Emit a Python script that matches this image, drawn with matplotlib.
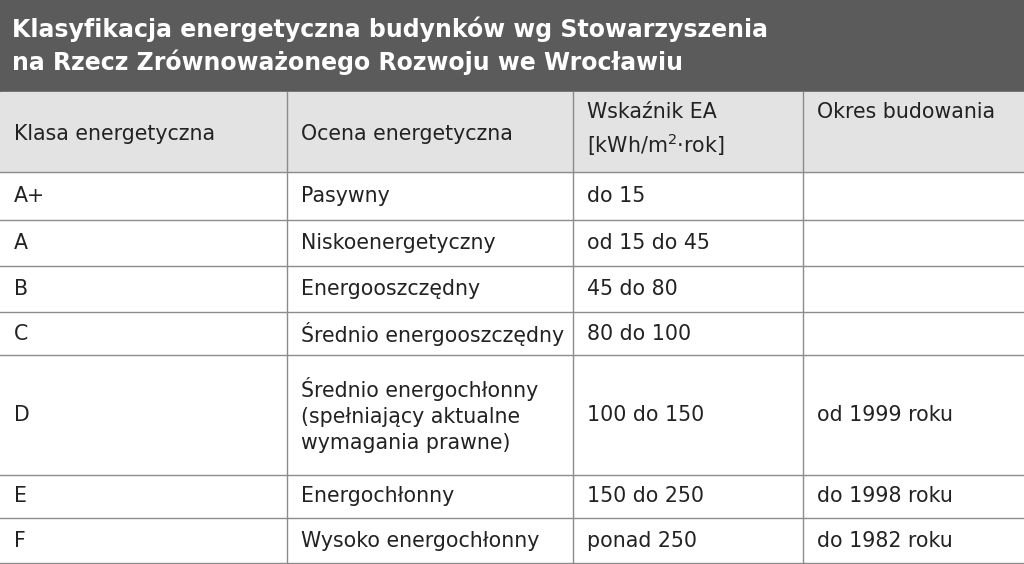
import matplotlib
matplotlib.use("Agg")
import matplotlib.pyplot as plt
from matplotlib.patches import Rectangle
from matplotlib import font_manager as fm

names = {f.name for f in fm.fontManager.ttflist}
FONT = "Liberation Sans Narrow" if "Liberation Sans Narrow" in names else "DejaVu Sans"

title = "Klasyfikacja energetyczna budynków wg Stowarzyszenia\nna Rzecz Zrównoważonego Rozwoju we Wrocławiu"
headers = ["Klasa energetyczna", "Ocena energetyczna", "Wskaźnik EA\n[kWh/m$^2$·rok]", "Okres budowania"]
classes = ["A+", "A", "B", "C", "D", "E", "F"]
ratings = ["Pasywny", "Niskoenergetyczny", "Energooszczędny", "Średnio energooszczędny",
           "Średnio energochłonny\n(spełniający aktualne\nwymagania prawne)", "Energochłonny", "Wysoko energochłonny"]
indicators = ["do 15", "od 15 do 45", "45 do 80", "80 do 100", "100 do 150", "150 do 250", "ponad 250"]
periods = ["", "", "", "", "od 1999 roku", "do 1998 roku", "do 1982 roku"]

W, H = 1024, 564
col_x = [0, 287, 573, 803, W]
row_y = [92, 172, 220, 266, 312, 355, 475, 518, H]

fig = plt.figure(figsize=(10.24, 5.64), dpi=100)
ax = fig.add_axes([0, 0, 1, 1])
ax.set_xlim(0, W); ax.set_ylim(H, 0); ax.axis("off")

ax.add_patch(Rectangle((0, 0), W, 92, color="#5b5b5b"))
ax.add_patch(Rectangle((0, 92), W, 80, color="#e3e3e3"))
ax.text(12, 46, title, color="white", fontsize=17, fontweight="bold", family=FONT,
        va="center", ha="left", linespacing=1.35)

line_c = "#8c8c8c"
for y in row_y[1:-1]:
    ax.plot([0, W], [y, y], color=line_c, lw=1)
ax.plot([0, W], [H - 1, H - 1], color=line_c, lw=1)
for x in col_x[1:-1]:
    ax.plot([x, x], [92, H], color=line_c, lw=1)

fs = 14.8
for j, h in enumerate(headers):
    if j == 0 or j == 1:
        ax.text(col_x[j] + 14, 134, h, fontsize=fs, family=FONT, va="center", ha="left", color="#222222")
    else:
        ax.text(col_x[j] + 14, 102, h, fontsize=fs, family=FONT, va="top", ha="left",
                color="#222222", linespacing=1.45)

for i in range(len(classes)):
    yc = (row_y[i + 1] + row_y[i + 2]) / 2
    vals = [classes[i], ratings[i], indicators[i], periods[i]]
    for j, v in enumerate(vals):
        ax.text(col_x[j] + 14, yc, v, fontsize=fs, family=FONT, va="center", ha="left",
                color="#222222", linespacing=1.4)

fig.savefig("out.png", dpi=100)
